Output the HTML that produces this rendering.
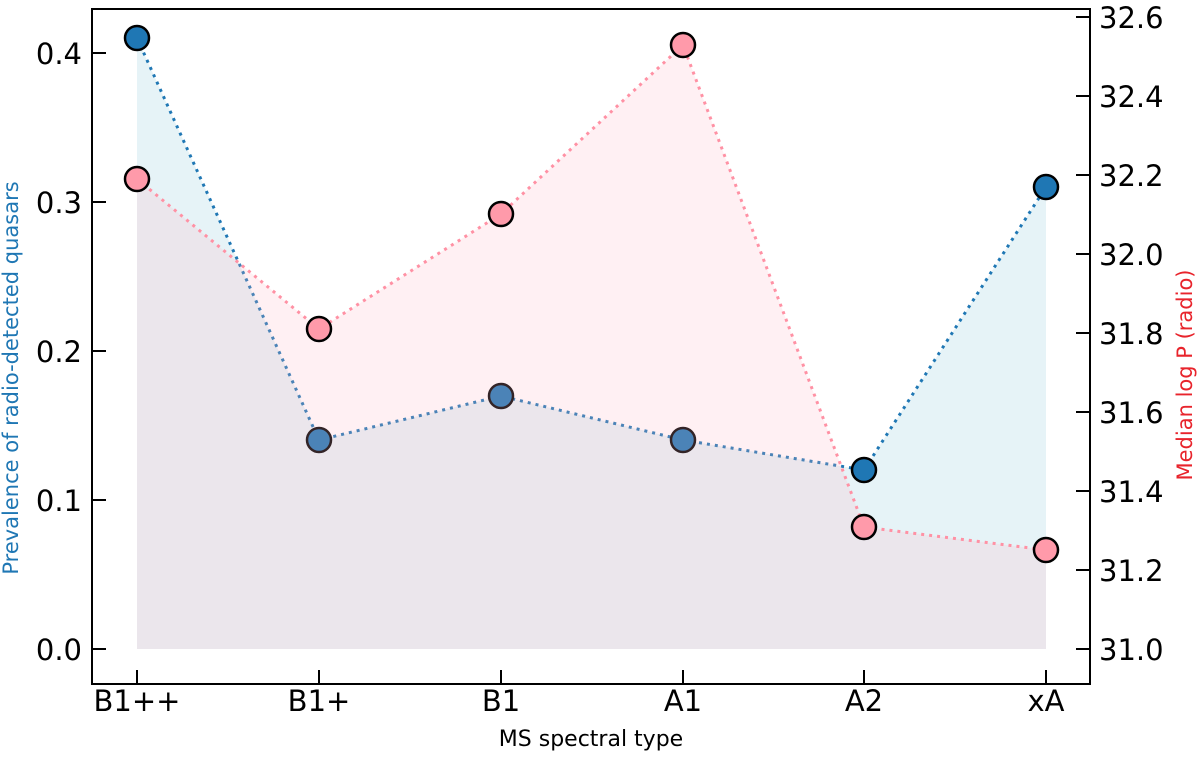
<!DOCTYPE html><html><head><style>body{margin:0;background:#fff}svg text{font-family:"DejaVu Sans","Liberation Sans",sans-serif}</style></head><body>
<svg width="1200" height="752" xmlns="http://www.w3.org/2000/svg">
<polygon points="137,38 319,440 501,396 683,440 864,470 1046,187 1046,649 137,649" fill="#add8e6" fill-opacity="0.3"/>
<polyline points="137,38 319,440 501,396 683,440 864,470 1046,187" fill="none" stroke="#1f77b4" stroke-width="3" stroke-dasharray="3,5"/>
<g fill="#1f77b4" stroke="#000" stroke-width="2.5">
<circle cx="137" cy="38" r="12"/><circle cx="319" cy="440" r="12"/><circle cx="501" cy="396" r="12"/><circle cx="683" cy="440" r="12"/><circle cx="864" cy="470" r="12"/><circle cx="1046" cy="187" r="12"/></g>
<polygon points="137,179 319,329 501,214 683,45 864,527 1046,550 1046,649 137,649" fill="#ffb6c1" fill-opacity="0.2"/>
<polyline points="137,179 319,329 501,214 683,45 864,527 1046,550" fill="none" stroke="#ff91a4" stroke-width="3" stroke-dasharray="3,5"/>
<g fill="#ff9aaa" stroke="#000" stroke-width="2.5">
<circle cx="137" cy="179" r="12"/><circle cx="319" cy="329" r="12"/><circle cx="501" cy="214" r="12"/><circle cx="683" cy="45" r="12"/><circle cx="864" cy="527" r="12"/><circle cx="1046" cy="550" r="12"/></g>
<rect x="92" y="9" width="998" height="675" fill="none" stroke="#000" stroke-width="2"/>
<g stroke="#000" stroke-width="2">
<line x1="92" y1="649" x2="106" y2="649"/><line x1="92" y1="500" x2="106" y2="500"/><line x1="92" y1="351" x2="106" y2="351"/><line x1="92" y1="202" x2="106" y2="202"/><line x1="92" y1="53" x2="106" y2="53"/>
<line x1="1090" y1="649" x2="1076" y2="649"/><line x1="1090" y1="570" x2="1076" y2="570"/><line x1="1090" y1="491" x2="1076" y2="491"/><line x1="1090" y1="412" x2="1076" y2="412"/><line x1="1090" y1="333" x2="1076" y2="333"/><line x1="1090" y1="254" x2="1076" y2="254"/><line x1="1090" y1="175" x2="1076" y2="175"/><line x1="1090" y1="96" x2="1076" y2="96"/><line x1="1090" y1="17" x2="1076" y2="17"/>
<line x1="137" y1="684" x2="137" y2="670"/><line x1="319" y1="684" x2="319" y2="670"/><line x1="501" y1="684" x2="501" y2="670"/><line x1="683" y1="684" x2="683" y2="670"/><line x1="864" y1="684" x2="864" y2="670"/><line x1="1046" y1="684" x2="1046" y2="670"/>
</g>
<g font-size="29" text-anchor="end">
<text x="82" y="660">0.0</text><text x="82" y="511">0.1</text><text x="82" y="362">0.2</text><text x="82" y="213">0.3</text><text x="82" y="64">0.4</text></g>
<g font-size="29">
<text x="1099" y="660">31.0</text><text x="1099" y="581">31.2</text><text x="1099" y="502">31.4</text><text x="1099" y="423">31.6</text><text x="1099" y="344">31.8</text><text x="1099" y="265">32.0</text><text x="1099" y="186">32.2</text><text x="1099" y="107">32.4</text><text x="1099" y="28">32.6</text></g>
<g font-size="29" text-anchor="middle">
<text x="137" y="711">B1++</text><text x="319" y="711">B1+</text><text x="501" y="711">B1</text><text x="683" y="711">A1</text><text x="864" y="711">A2</text><text x="1046" y="711">xA</text></g>
<text x="591" y="746" font-size="22" text-anchor="middle">MS spectral type</text>
<text transform="translate(18,378) rotate(-90)" font-size="21" fill="#1f77b4" text-anchor="middle">Prevalence of radio-detected quasars</text>
<text transform="translate(1192,375) rotate(-90)" font-size="21" fill="#e8242c" text-anchor="middle">Median log P (radio)</text>
</svg></body></html>
